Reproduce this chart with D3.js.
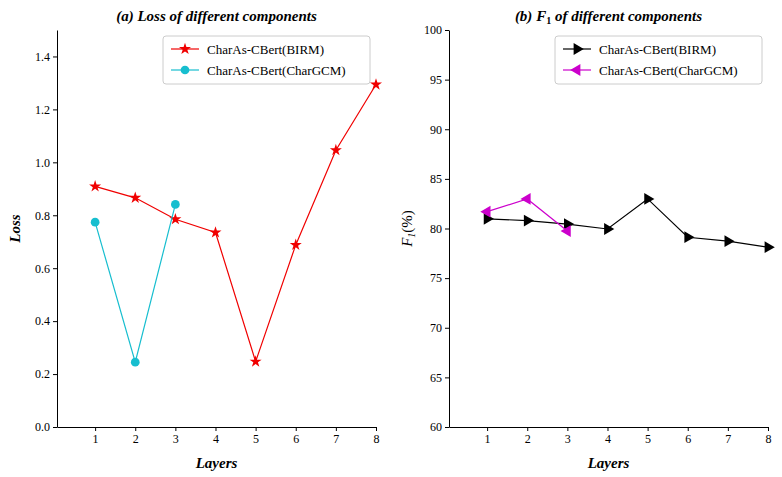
<!DOCTYPE html>
<html><head><meta charset="utf-8">
<script src="https://cdn.jsdelivr.net/npm/d3@7"></script>
<style>body{margin:0;background:#fff}text{font-family:"Liberation Serif","DejaVu Serif",serif}</style>
</head><body><div id="chart"></div>
<script>
var layers = [1, 2, 3, 4, 5, 6, 7, 8];
var lossBirm = [0.909, 0.866, 0.785, 0.735, 0.247, 0.688, 1.046, 1.294];
var lossGcm = [0.774, 0.245, 0.841];
var f1Birm = [80.97, 80.8, 80.45, 79.95, 82.98, 79.12, 78.72, 78.12];
var f1Gcm = [81.7, 82.98, 79.74];
var lossTicks = [0, 0.2, 0.4, 0.6, 0.8, 1.0, 1.2, 1.4];
var f1Ticks = [60, 65, 70, 75, 80, 85, 90, 95, 100];

var svg = d3.select("#chart").append("svg").attr("width", 782).attr("height", 477);
var plotTop = 30, plotBottom = 427;

function panel(left, right, yDomain, yTicks, fmt, title, ylabel, series) {
  var x = d3.scaleLinear().domain([0.05, 8]).range([left, right]);
  var y = d3.scaleLinear().domain(yDomain).range([plotBottom, plotTop]);
  var g = svg.append("g");
  g.append("g").attr("transform", "translate(0," + plotBottom + ")")
    .call(d3.axisBottom(x).tickValues(layers).tickSize(4).tickSizeOuter(0))
    .call(function(a) { a.selectAll("text").attr("font-size", 12).attr("fill", "#000"); });
  g.append("g").attr("transform", "translate(" + left + ",0)")
    .call(d3.axisLeft(y).tickValues(yTicks).tickFormat(fmt).tickSize(4).tickSizeOuter(0))
    .call(function(a) { a.selectAll("text").attr("font-size", 12).attr("fill", "#000"); });
  g.append("text").attr("x", (left + right) / 2).attr("y", 21).attr("text-anchor", "middle")
    .attr("font-size", 15).attr("font-weight", "bold").attr("font-style", "italic").html(title);
  g.append("text").attr("x", (left + right) / 2).attr("y", 468).attr("text-anchor", "middle")
    .attr("font-size", 15).attr("font-weight", "bold").attr("font-style", "italic").text("Layers");
  g.append("text").attr("transform", "translate(" + (left - 37) + "," + (plotTop + plotBottom) / 2 + ") rotate(-90)")
    .attr("text-anchor", "middle").attr("font-size", 15).attr("font-weight", "bold").attr("font-style", "italic").html(ylabel);
  var line = d3.line().x(function(d, i) { return x(layers[i]); }).y(function(d) { return y(d); });
  series.forEach(function(s) {
    g.append("path").datum(s.values).attr("d", line).attr("fill", "none").attr("stroke", s.color).attr("stroke-width", 1.2);
    g.selectAll(null).data(s.values).enter().append("path")
      .attr("transform", function(d, i) { return "translate(" + x(layers[i]) + "," + y(d) + ")" + (s.rot ? " rotate(" + s.rot + ")" : ""); })
      .attr("d", d3.symbol().type(s.sym).size(s.size)).attr("fill", s.color);
  });
  // legend
  var lx = left + 106, ly = 36;
  g.append("rect").attr("x", lx).attr("y", ly).attr("width", right - lx - 6).attr("height", 48)
    .attr("fill", "#fff").attr("stroke", "#ccc").attr("rx", 3);
  series.forEach(function(s, i) {
    var yy = ly + 13 + i * 21;
    g.append("line").attr("x1", lx + 8).attr("x2", lx + 36).attr("y1", yy).attr("y2", yy).attr("stroke", s.color).attr("stroke-width", 1.2);
    g.append("path").attr("transform", "translate(" + (lx + 22) + "," + yy + ")" + (s.rot ? " rotate(" + s.rot + ")" : ""))
      .attr("d", d3.symbol().type(s.sym).size(s.size)).attr("fill", s.color);
    g.append("text").attr("x", lx + 44).attr("y", yy + 5).attr("font-size", 13).text(s.name);
  });
}

panel(57, 376, [0, 1.5], lossTicks, d3.format(".1f"), "(a) Loss of different components", "Loss", [
  { name: "CharAs-CBert(BIRM)", values: lossBirm, color: "#f00000", sym: d3.symbolStar, size: 45 },
  { name: "CharAs-CBert(CharGCM)", values: lossGcm, color: "#17becf", sym: d3.symbolCircle, size: 60 }
]);
panel(449, 768, [60, 100], f1Ticks, d3.format("d"), "(b) <tspan font-style='italic'>F</tspan><tspan font-size='10' dy='3' font-style='normal'>1</tspan><tspan dy='-3'> of different components</tspan>",
  "<tspan font-weight='normal'>F</tspan><tspan font-size='10' dy='3' font-weight='normal'>1</tspan><tspan dy='-3' font-weight='normal' font-style='normal'>(%)</tspan>", [
  { name: "CharAs-CBert(BIRM)", values: f1Birm, color: "#000", sym: d3.symbolTriangle, size: 60, rot: 90 },
  { name: "CharAs-CBert(CharGCM)", values: f1Gcm, color: "#cc00cc", sym: d3.symbolTriangle, size: 60, rot: -90 }
]);
</script></body></html>
